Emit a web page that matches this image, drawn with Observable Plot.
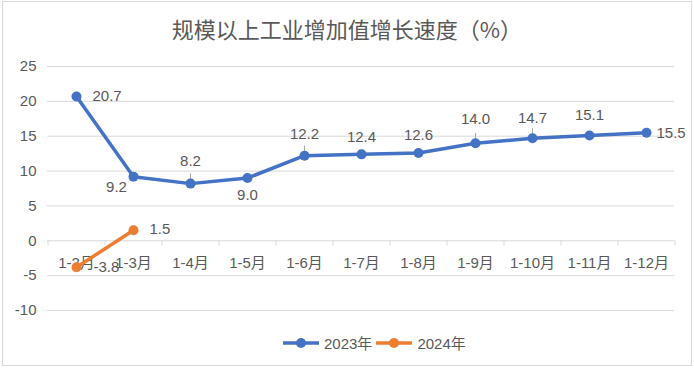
<!DOCTYPE html>
<html>
<head>
<meta charset="utf-8">
<script src="https://cdn.jsdelivr.net/npm/d3@7"></script>
<script src="https://cdn.jsdelivr.net/npm/@observablehq/plot@0.6"></script>
<style>
  body { margin: 0; background: #fff; }
  #wrap { position: relative; width: 694px; height: 368px; overflow: hidden; background: #fff;
          font-family: "Liberation Sans", "Noto Sans CJK SC", sans-serif; }
  #frame { position: absolute; left: 2px; top: 1px; width: 690px; height: 365px;
           border: 1px solid #d9d9d9; box-sizing: border-box; }
  #title { position: absolute; top: 12px; left: 0; width: 694px; text-align: center;
           font-family: "Noto Sans CJK SC", sans-serif; font-size: 22px; color: #595959; font-weight: 400; }
  #chart { position: absolute; top: 50px; left: 0; }
  #legend { position: absolute; top: 332px; left: 283px; display: flex; align-items: center;
            font-size: 15px; color: #595959; gap: 4px; }
  #legend .item { display: flex; align-items: center; gap: 5px; }
</style>
</head>
<body>
<div id="wrap">
  <div id="frame"></div>
  <div id="title">规模以上工业增加值增长速度（%）</div>
  <div id="chart"></div>
  <div id="legend"></div>
</div>
<script>
// ---- data ----
const categories = ["1-2月", "1-3月", "1-4月", "1-5月", "1-6月", "1-7月", "1-8月", "1-9月", "1-10月", "1-11月", "1-12月"];
const values2023 = [20.7, 9.2, 8.2, 9.0, 12.2, 12.4, 12.6, 14.0, 14.7, 15.1, 15.5];
const values2024 = [-3.8, 1.5];
const seriesNames = ["2023年", "2024年"];
const yTicks = [-10, -5, 0, 5, 10, 15, 20, 25];

// ---- styles / label placement ----
const colors = ["#4472C4", "#ED7D31"];
const textColor = "#595959";
const gridColor = "#d9d9d9";
// label offsets [dx, dy, anchor]
const labelOffsets2023 = [[16, 0, "start"], [-17, 11, "middle"], [0, -22, "middle"], [0, 17, "middle"],
  [0, -22, "middle"], [0, -17, "middle"], [0, -18, "middle"], [0, -24, "middle"],
  [0, -20, "middle"], [0, -20, "middle"], [10, 0, "start"]];
const labelOffsets2024 = [[17, 0, "start"], [16, -1, "start"]];
// indices of 2023 labels that have a small leader line
const leaderIdx = [2, 4, 7, 8];

const data2023 = categories.map((c, i) => ({cat: c, v: values2023[i], s: seriesNames[0]}));
const data2024 = values2024.map((v, i) => ({cat: categories[i], v, s: seriesNames[1]}));

const halfStep = (694 - 47 - 20) / categories.length / 2;
const fontNum = "Liberation Sans, Noto Sans CJK SC, sans-serif";

function labelMarks(data, offsets) {
  return data.map((d, i) => Plot.text([d], {
    x: "cat", y: "v", text: d => d.v.toFixed(1),
    dx: offsets[i][0], dy: offsets[i][1], textAnchor: offsets[i][2],
    fill: textColor, fontSize: 15
  }));
}

const chart = Plot.plot({
  width: 694,
  height: 290,
  marginTop: 16,
  marginBottom: 30,
  marginLeft: 47,
  marginRight: 20,
  style: {fontFamily: fontNum, fontSize: "15px", color: textColor, background: "transparent"},
  x: {type: "point", domain: categories, padding: 0.5, axis: null},
  y: {domain: [-10, 25], axis: null},
  marks: [
    Plot.ruleY(yTicks, {stroke: gridColor, strokeWidth: 1}),
    Plot.ruleX(categories, {x: d => d, y1: 0, y2: -0.75, dx: -halfStep, stroke: gridColor}),
    Plot.ruleX([categories[categories.length - 1]], {x: d => d, y1: 0, y2: -0.75, dx: halfStep, stroke: gridColor}),
    Plot.axisY({ticks: yTicks, tickSize: 0, tickPadding: 11, tickFormat: d => String(d), label: null,
                fontSize: 15, fill: textColor}),
    Plot.text(categories, {x: d => d, y: () => 0, dy: 22, text: d => d, fill: textColor, fontSize: 15}),
    Plot.ruleX(leaderIdx.map(i => data2023[i]), {x: "cat", y1: "v", y2: d => d.v + 1.4, stroke: "#a6a6a6", strokeWidth: 1}),
    Plot.line(data2023, {x: "cat", y: "v", stroke: colors[0], strokeWidth: 3.5}),
    Plot.dot(data2023, {x: "cat", y: "v", r: 5, fill: colors[0]}),
    Plot.line(data2024, {x: "cat", y: "v", stroke: colors[1], strokeWidth: 3.5}),
    Plot.dot(data2024, {x: "cat", y: "v", r: 5, fill: colors[1]}),
    ...labelMarks(data2023, labelOffsets2023),
    ...labelMarks(data2024, labelOffsets2024)
  ]
});
document.getElementById("chart").appendChild(chart);

// legend
const legend = document.getElementById("legend");
seriesNames.forEach((name, i) => {
  const item = document.createElement("div");
  item.className = "item";
  item.innerHTML = `<svg width="36" height="12"><line x1="0" y1="6" x2="36" y2="6" stroke="${colors[i]}" stroke-width="3.5"/><circle cx="18" cy="6" r="5" fill="${colors[i]}"/></svg><span>${name}</span>`;
  legend.appendChild(item);
});
</script>
</body>
</html>
